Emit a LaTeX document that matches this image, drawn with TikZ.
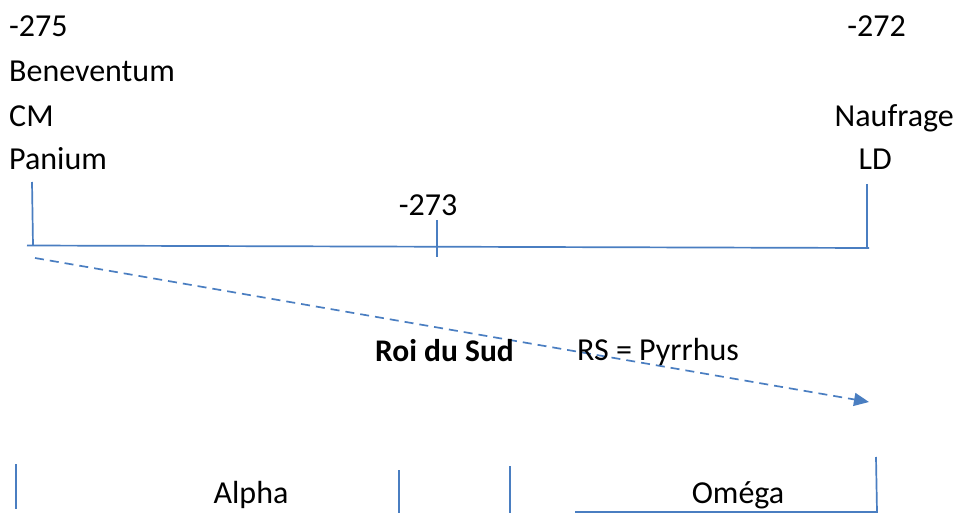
\documentclass[tikz,border=0pt]{standalone}
\usepackage{fontspec}
\setmainfont{Carlito}
\usetikzlibrary{arrows.meta}
\definecolor{lineblue}{RGB}{74,126,193}
\tikzset{
  lbl/.style={inner sep=0pt, font=\fontsize{32}{38}\selectfont},
  ln/.style={draw=lineblue, line width=1.7pt},
  dashln/.style={draw=lineblue, line width=1.7pt, dash pattern=on 9pt off 6pt, -{Triangle[length=15pt,width=13pt]}}
}
\begin{document}
\begin{tikzpicture}[x=1pt,y=-1pt]
\useasboundingbox (0,0) rectangle (955,513);
% top-left labels
\node[lbl, anchor=base west] (a275) at (9,37) {-275};
\node[lbl, anchor=base west] (bene) at (9,82) {Beneventum};
\node[lbl, anchor=base west] (cm) at (9,127) {CM};
\node[lbl, anchor=base west] (pan) at (9,170) {Panium};
% top-right labels
\node[lbl, anchor=base east] (a272) at (906,37) {-272};
\node[lbl, anchor=base east] (nauf) at (954,127) {Naufrage};
\node[lbl, anchor=base east] (ld) at (892,170) {LD};
% middle tick label
\node[lbl, anchor=base] (a273) at (428,215) {-273};
% timeline
\coordinate (tl) at (27,245.5);
\coordinate (tr) at (869,248);
\coordinate (lt) at (32,182);
\coordinate (lb) at (33,245.5);
\coordinate (rt) at (867,184);
\coordinate (rb) at (867,248);
\coordinate (mt) at (437,220);
\coordinate (mb) at (437,257);
\draw[ln] (tl) -- (tr);
\draw[ln] (lt) -- (lb);
\draw[ln] (rt) -- (rb);
\draw[ln] (mt) -- (mb);
% dashed arrow
\coordinate (ds) at (35,258);
\coordinate (de) at (869,402);
\draw[dashln] (ds) -- (de);
% middle labels
\node[lbl, anchor=base west, font=\fontsize{31.5}{38}\selectfont\bfseries] (roi) at (375,361) {Roi du Sud};
\node[lbl, anchor=base west] (rs) at (577,360) {RS = Pyrrhus};
% bottom
\coordinate (b1t) at (16,464); \coordinate (b1b) at (16,509);
\coordinate (b2t) at (399,470); \coordinate (b2b) at (399,513);
\coordinate (b3t) at (510,466); \coordinate (b3b) at (510,513);
\coordinate (b4t) at (876,457); \coordinate (b4b) at (877,512);
\coordinate (bh) at (575,512);
\draw[ln] (b1t) -- (b1b);
\draw[ln] (b2t) -- (b2b);
\draw[ln] (b3t) -- (b3b);
\draw[ln] (b4t) -- (b4b) -- (bh);
\node[lbl, anchor=base] (alpha) at (251,503) {Alpha};
\node[lbl, anchor=base] (omega) at (738,503) {Oméga};
\end{tikzpicture}
\end{document}
